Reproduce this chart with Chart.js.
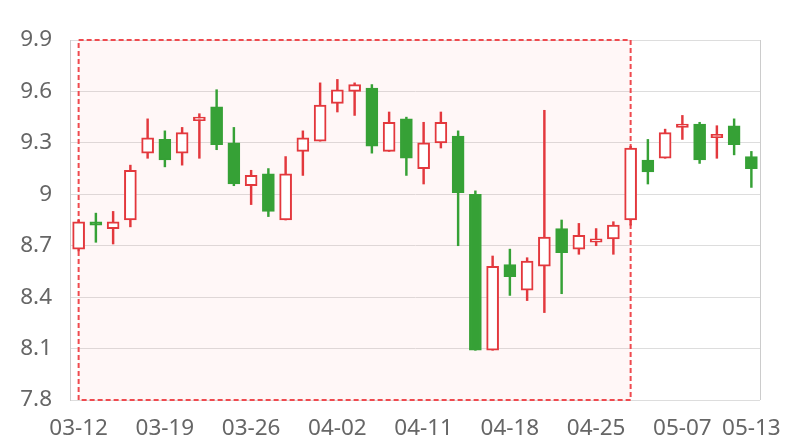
<!DOCTYPE html>
<html>
<head>
<meta charset="utf-8">
<script src="https://cdn.jsdelivr.net/npm/chart.js@4/dist/chart.umd.min.js"></script>
<style>
  html, body { margin: 0; padding: 0; background: #fff; }
  #wrap { width: 800px; height: 440px; }
</style>
</head>
<body>
<div id="wrap"><canvas id="kline"></canvas></div>
<script>
// Trading days (category axis)
const dates = [
    '03-12', '03-13', '03-14', '03-15', '03-18', '03-19', '03-20', '03-21', '03-22', '03-25',
    '03-26', '03-27', '03-28', '03-29', '04-01', '04-02', '04-03', '04-04', '04-09', '04-10',
    '04-11', '04-12', '04-15', '04-16', '04-17', '04-18', '04-19', '04-22', '04-23', '04-24',
    '04-25', '04-26', '04-29', '04-30', '05-06', '05-07', '05-08', '05-09', '05-10', '05-13'
];

// OHLC values
const opens = [
    8.68, 8.84, 8.80, 8.85, 9.24, 9.32, 9.24, 9.43, 9.51, 9.30,
    9.05, 9.12, 8.85, 9.25, 9.31, 9.53, 9.60, 9.62, 9.25, 9.44,
    9.15, 9.30, 9.34, 9.00, 8.09, 8.59, 8.44, 8.58, 8.80, 8.68,
    8.72, 8.74, 8.85, 9.20, 9.21, 9.39, 9.41, 9.33, 9.40, 9.22
];
const closes = [
    8.84, 8.82, 8.84, 9.14, 9.33, 9.20, 9.36, 9.45, 9.29, 9.06,
    9.11, 8.90, 9.12, 9.33, 9.52, 9.61, 9.64, 9.28, 9.42, 9.21,
    9.30, 9.42, 9.01, 8.09, 8.58, 8.52, 8.61, 8.75, 8.66, 8.76,
    8.74, 8.82, 9.27, 9.13, 9.36, 9.41, 9.20, 9.35, 9.29, 9.15
];
const lows = [
    8.67, 8.72, 8.71, 8.81, 9.21, 9.16, 9.17, 9.21, 9.26, 9.05,
    8.94, 8.87, 8.85, 9.11, 9.31, 9.48, 9.46, 9.24, 9.25, 9.11,
    9.06, 9.27, 8.70, 8.09, 8.09, 8.41, 8.38, 8.31, 8.42, 8.65,
    8.70, 8.65, 8.82, 9.06, 9.21, 9.32, 9.18, 9.21, 9.23, 9.04
];
const highs = [
    8.85, 8.89, 8.90, 9.17, 9.44, 9.37, 9.39, 9.47, 9.61, 9.39,
    9.14, 9.15, 9.22, 9.37, 9.65, 9.67, 9.65, 9.64, 9.48, 9.45,
    9.42, 9.48, 9.37, 9.02, 8.64, 8.68, 8.63, 9.49, 8.85, 8.83,
    8.80, 8.84, 9.28, 9.32, 9.38, 9.46, 9.42, 9.40, 9.44, 9.25
];

// Y axis range and shaded window
const yMin = 7.8;
const yMax = 9.9;
const yStep = 0.3;
const markStart = '03-12';
const markEnd = '04-29';

const UP = '#e3383d';
const DOWN = '#36a136';

const isUp = opens.map((o, i) => closes[i] >= o);

// Shaded region with dashed outline, drawn behind the candles
const markAreaPlugin = {
    id: 'markArea',
    beforeDatasetsDraw(chart) {
        const { ctx, scales } = chart;
        const x0 = scales.x.getPixelForValue(dates.indexOf(markStart));
        const x1 = scales.x.getPixelForValue(dates.indexOf(markEnd));
        const y0 = scales.y.getPixelForValue(yMax);
        const y1 = scales.y.getPixelForValue(yMin);
        ctx.save();
        ctx.fillStyle = 'rgba(255, 120, 120, 0.06)';
        ctx.fillRect(x0, y0, x1 - x0, y1 - y0);
        ctx.strokeStyle = '#ef4a4f';
        ctx.lineWidth = 2;
        ctx.setLineDash([5, 3]);
        ctx.strokeRect(x0, y0, x1 - x0, y1 - y0);
        ctx.restore();
    }
};

// Thin frame line on the right side of the plot
const rightEdgePlugin = {
    id: 'rightEdge',
    beforeDatasetsDraw(chart) {
        const { ctx, chartArea } = chart;
        ctx.save();
        ctx.strokeStyle = '#cccccc';
        ctx.lineWidth = 1;
        ctx.beginPath();
        ctx.moveTo(Math.round(chartArea.right) + 0.5, chartArea.top);
        ctx.lineTo(Math.round(chartArea.right) + 0.5, chartArea.bottom);
        ctx.stroke();
        ctx.restore();
    }
};

const ctx = document.getElementById('kline');
new Chart(ctx, {
    type: 'bar',
    data: {
        labels: dates,
        datasets: [
            {
                label: 'body',
                data: opens.map((o, i) => [o, closes[i]]),
                backgroundColor: isUp.map(u => u ? '#ffffff' : DOWN),
                borderColor: isUp.map(u => u ? UP : DOWN),
                borderWidth: 2,
                borderSkipped: false,
                barThickness: 12,
                grouped: false,
                order: 1
            },
            {
                label: 'wick',
                data: lows.map((l, i) => [l, highs[i]]),
                backgroundColor: isUp.map(u => u ? UP : DOWN),
                borderWidth: 0,
                barThickness: 1.8,
                grouped: false,
                order: 2
            }
        ]
    },
    options: {
        responsive: true,
        maintainAspectRatio: false,
        animation: false,
        layout: { padding: { left: 0, top: 40, right: 40, bottom: 0 } },
        plugins: {
            legend: { display: false },
            tooltip: { enabled: false }
        },
        scales: {
            x: {
                grid: { display: false, drawTicks: false },
                border: { display: false },
                afterFit: scale => { scale.height = 40; },
                ticks: {
                    autoSkip: false,
                    maxRotation: 0,
                    padding: 15,
                    color: '#666',
                    font: { family: 'Noto Sans', size: 22.5 },
                    callback: (value, index) =>
                        (index % 5 === 0 || index === dates.length - 1) ? dates[index] : ''
                }
            },
            y: {
                min: yMin,
                max: yMax,
                grid: { color: '#dddddd', drawTicks: false },
                border: { color: '#cccccc' },
                afterFit: scale => { scale.width = 70; },
                ticks: {
                    stepSize: yStep,
                    padding: 18,
                    color: '#666',
                    font: { family: 'Noto Sans', size: 22.5 },
                    callback: value => String(Number(value.toFixed(1)))
                }
            }
        }
    },
    plugins: [markAreaPlugin, rightEdgePlugin]
});
</script>
</body>
</html>
